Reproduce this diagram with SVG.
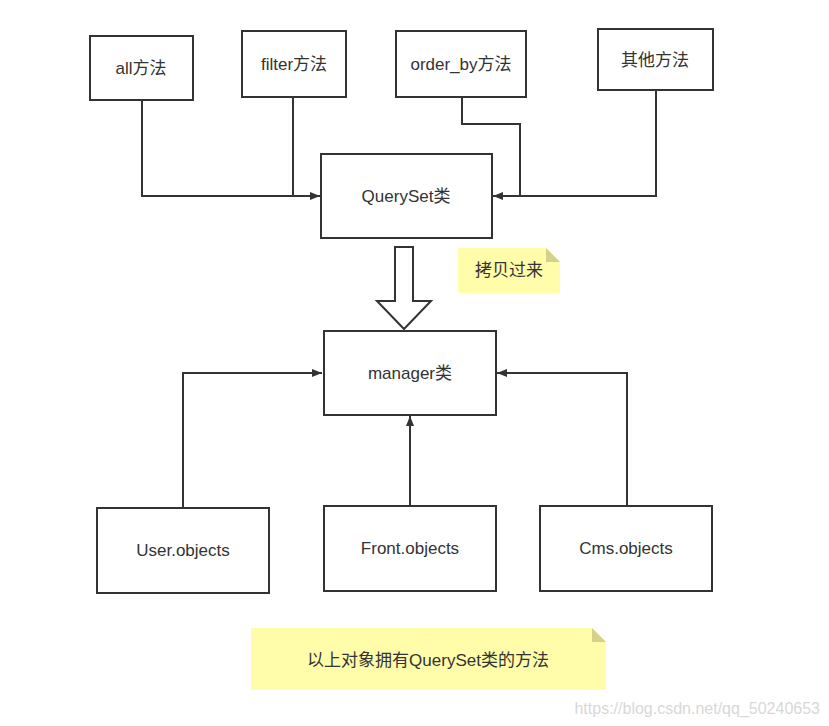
<svg xmlns="http://www.w3.org/2000/svg" width="829" height="726" viewBox="0 0 829 726">
<defs>
<style>
.box{fill:#fff;stroke:#333;stroke-width:2}
.t{font-family:"Liberation Sans","Noto Sans CJK SC",sans-serif;font-size:17px;fill:#333;text-anchor:middle;dominant-baseline:central}
.ln{fill:none;stroke:#333;stroke-width:2}
.note{fill:#fffcaa}
.fold{fill:#d4d18a}
</style>
<marker id="ah" viewBox="0 0 10 10" refX="10" refY="5" markerWidth="10" markerHeight="10" markerUnits="userSpaceOnUse" orient="auto">
<path d="M0,1 L10,5 L0,9 Z" fill="#333"/>
</marker>
</defs>
<rect width="829" height="726" fill="#fff"/>
<g id="connectors">
<polyline class="ln" points="142,100 142,196 320,196" marker-end="url(#ah)"/>
<polyline class="ln" points="293,97 293,196 310,196"/>
<polyline class="ln" points="462,97 462,124 520,124 520,196 493,196" marker-end="url(#ah)"/>
<polyline class="ln" points="656,90 656,196 505,196"/>
<polyline class="ln" points="183,508 183,373 322,373" marker-end="url(#ah)"/>
<polyline class="ln" points="410,506 410,416" marker-end="url(#ah)"/>
<polyline class="ln" points="627,506 627,373 497,373" marker-end="url(#ah)"/>
<polygon points="395,247 413,247 413,301 431,301 404,329 377,301 395,301" fill="#fff" stroke="#333" stroke-width="2" stroke-linejoin="miter"/>
</g>
<g id="n-all"><rect class="box" x="90" y="36" width="103" height="64"/><text class="t" x="141" y="68">all方法</text></g>
<g id="n-filter"><rect class="box" x="242" y="31" width="104" height="66"/><text class="t" x="294" y="64">filter方法</text></g>
<g id="n-orderby"><rect class="box" x="396" y="31" width="130" height="66"/><text class="t" x="461" y="64">order_by方法</text></g>
<g id="n-other"><rect class="box" x="598" y="29" width="115" height="61"/><text class="t" x="655" y="60">其他方法</text></g>
<g id="n-queryset"><rect class="box" x="321" y="154" width="171" height="84"/><text class="t" x="406" y="196">QuerySet类</text></g>
<g id="n-note1"><path class="note" d="M458,248 H546 L560,262 V293 H458 Z"/><path class="fold" d="M546,248 L560,262 H546 Z"/><text class="t" x="509" y="270">拷贝过来</text></g>
<g id="n-manager"><rect class="box" x="324" y="331" width="172" height="84"/><text class="t" x="410" y="373">manager类</text></g>
<g id="n-user"><rect class="box" x="97" y="508" width="172" height="85"/><text class="t" x="183" y="550">User.objects</text></g>
<g id="n-front"><rect class="box" x="324" y="506" width="172" height="85"/><text class="t" x="410" y="548">Front.objects</text></g>
<g id="n-cms"><rect class="box" x="540" y="506" width="172" height="85"/><text class="t" x="626" y="548">Cms.objects</text></g>
<g id="n-note2"><path class="note" d="M251,628 H592 L606,642 V690 H251 Z"/><path class="fold" d="M592,628 L606,642 H592 Z"/><text class="t" x="428" y="660">以上对象拥有QuerySet类的方法</text></g>
<text x="820" y="708" font-family="Liberation Sans, sans-serif" font-size="16" fill="#d8d8d8" text-anchor="end" dominant-baseline="central">https://blog.csdn.net/qq_50240653</text>
</svg>
